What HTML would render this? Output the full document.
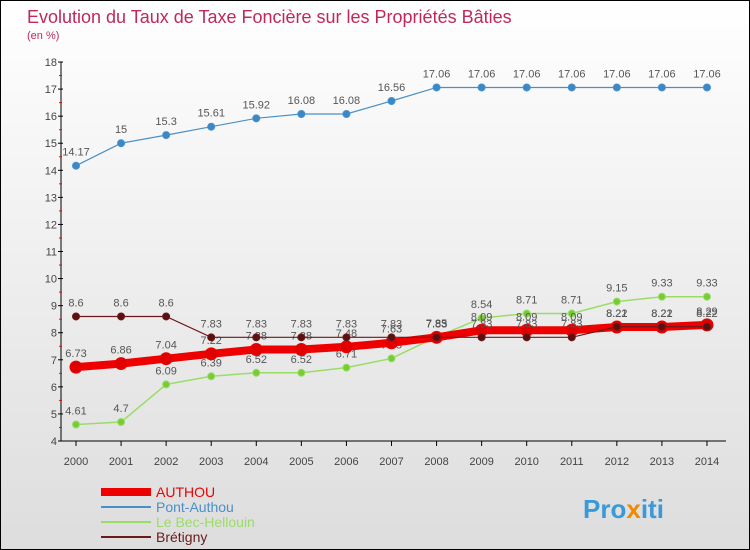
<!DOCTYPE html>
<html><head><meta charset="utf-8"><style>
body{margin:0}
#c{width:748px;height:548px;border:1px solid #000;background:linear-gradient(#fff,#ddd);position:relative;font-family:"Liberation Sans",sans-serif;overflow:hidden}
</style></head><body>
<div id="c">
<svg id="s" width="748" height="548"></svg>
</div>
<script>
const years=[2000,2001,2002,2003,2004,2005,2006,2007,2008,2009,2010,2011,2012,2013,2014];
const authou=[6.73,6.86,7.04,7.22,7.38,7.38,7.48,7.63,7.83,8.09,8.09,8.09,8.21,8.21,8.29];
const pont=[14.17,15,15.3,15.61,15.92,16.08,16.08,16.56,17.06,17.06,17.06,17.06,17.06,17.06,17.06];
const bec=[4.61,4.7,6.09,6.39,6.52,6.52,6.71,7.05,7.85,8.54,8.71,8.71,9.15,9.33,9.33];
const bret=[8.6,8.6,8.6,7.83,7.83,7.83,7.83,7.83,7.83,7.83,7.83,7.83,8.22,8.22,8.22];
const yTicks=[4,5,6,7,8,9,10,11,12,13,14,15,16,17,18];
const NS="http://www.w3.org/2000/svg";const s=document.getElementById('s');
const X=i=>75+i*45.07, Y=v=>440-(v-4)*27.07;
function el(t,a,p){const e=document.createElementNS(NS,t);for(const k in a)e.setAttribute(k,a[k]);(p||s).appendChild(e);return e;}
function tx(x,y,str,o){const e=el('text',Object.assign({x:x,y:y,'font-size':12,fill:'#444'},o||{}));e.textContent=str;return e;}
let t=tx(26,22,'Evolution du Taux de Taxe Foncière sur les Propriétés Bâties',{'font-size':18,fill:'#c0285a'});

t=tx(26,38,'(en %)',{'font-size':11,fill:'#c0285a'});

let ax=el('line',{x1:60,y1:Y(18),x2:60,y2:440,stroke:'#000'});

ax=el('line',{x1:60,y1:440,x2:725,y2:440,stroke:'#000'});

yTicks.forEach(v=>{el('line',{x1:57,y1:Y(v),x2:62,y2:Y(v),stroke:'#000'});
 if(v<18)el('line',{x1:58,y1:Y(v+0.5),x2:61,y2:Y(v+0.5),stroke:'red'});
 const l=tx(56,Y(v)+4,String(v),{'text-anchor':'end','font-size':11});
 });
years.forEach((y,i)=>{el('line',{x1:X(i),y1:440,x2:X(i),y2:445,stroke:'#000'});
 const l=tx(X(i),464,String(y),{'text-anchor':'middle','font-size':11});
 });
function series(d,name,col,dot,w,r){
 const g=el('g',{});
 el('polyline',{points:d.map((v,i)=>X(i)+','+Y(v)).join(' '),fill:'none',stroke:col,'stroke-width':w},g);
 d.forEach((v,i)=>{const c=el('circle',{cx:X(i),cy:Y(v),r:r,fill:dot,stroke:col,'stroke-width':1},g);
  
  tx(X(i),Y(v)-10,String(v),{'text-anchor':'middle','font-size':11,fill:'#555'});});
}
series(pont,'pont-authou','#4a90c8','#3a88c8',1.2,3.5);
series(bec,'le-bec-hellouin','#99dd66','#77cc33',1.5,3.5);
series(authou,'authou','#ee0000','#e00000',8,6);
series(bret,'bretigny','#6b1a1a','#5a1010',1.2,3.5);
const leg=[['AUTHOU','#ee0000',8],['Pont-Authou','#4a90c8',2],['Le Bec-Hellouin','#99dd66',2],['Brétigny','#6b1a1a',2]];
leg.forEach((l,i)=>{const g=el('g',{});
 el('line',{x1:100,y1:491+i*15,x2:150,y2:491+i*15,stroke:l[1],'stroke-width':l[2]},g);
 tx(155,496+i*15,l[0],{'font-size':14,fill:l[1]==='#ee0000'?'#ee0000':l[1]},g);});
const p=tx(582,517,'Pro',{'font-size':26,'font-weight':'bold',fill:'#3a9ad9'});
const q=el('tspan',{fill:'#f08a00'},p);q.textContent='x';const r=el('tspan',{fill:'#3a9ad9'},p);r.textContent='iti';
</script></body></html>
